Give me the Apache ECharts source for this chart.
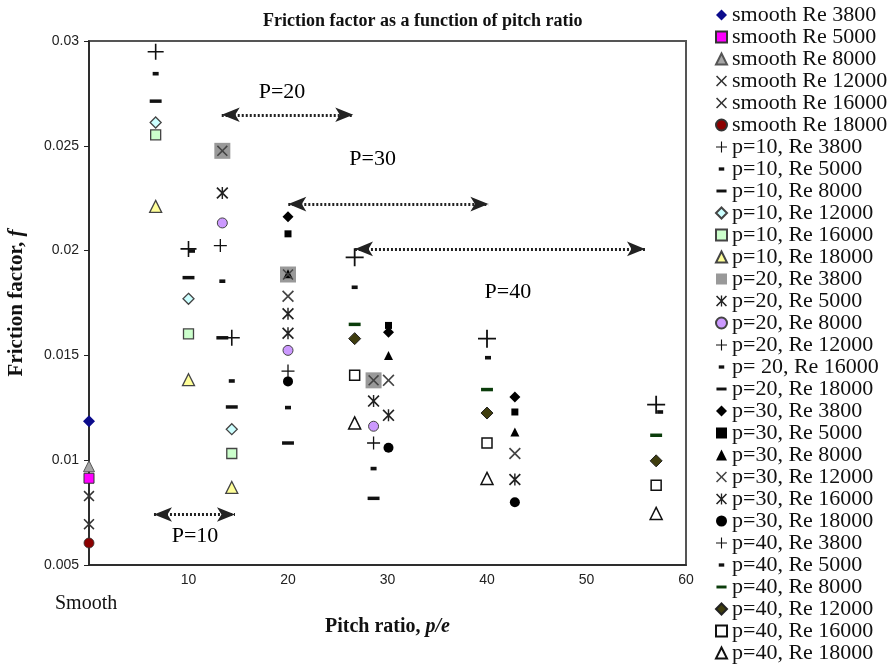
<!DOCTYPE html>
<html><head><meta charset="utf-8">
<script src="https://cdn.jsdelivr.net/npm/echarts@6/dist/echarts.min.js"></script>
<style>html,body{margin:0;padding:0;background:#fff}#c{width:893px;height:669px}</style>
</head><body><div id="c"></div>
<script>
// ---------- data (p/e on x, friction factor f on y) ----------
const legendNames = [
  'smooth Re 3800','smooth Re 5000','smooth Re 8000','smooth Re 12000','smooth Re 16000','smooth Re 18000',
  'p=10, Re 3800','p=10, Re 5000','p=10, Re 8000','p=10, Re 12000','p=10, Re 16000','p=10, Re 18000',
  'p=20, Re 3800','p=20, Re 5000','p=20, Re 8000','p=20, Re 12000','p= 20, Re 16000','p=20, Re 18000',
  'p=30, Re 3800','p=30, Re 5000','p=30, Re 8000','p=30, Re 12000','p=30, Re 16000','p=30, Re 18000',
  'p=40, Re 3800','p=40, Re 5000','p=40, Re 8000','p=40, Re 12000','p=40, Re 16000','p=40, Re 18000'
];
const xTickValues = [0, 10, 20, 30, 40, 50, 60];

const pitchSmooth = [0];
const fSmooth3800 = [0.01186];
const fSmooth5000 = [0.00914];
const fSmooth8000 = [0.00971];
const fSmooth12000 = [0.00829];
const fSmooth16000 = [0.00695];
const fSmooth18000 = [0.00605];

const pitchP10 = [6.7, 10.0, 14.35];
const pitchP10Re5000 = [6.7, 10.35, 14.35];
const fP10Re3800 = [0.02949, 0.02008, 0.01584];
const fP10Re5000 = [0.02844, 0.01998, 0.01378];
const fP10Re8000 = [0.02713, 0.01871, 0.01254];
const fP10Re12000 = [0.02611, 0.01770, 0.01148];
const fP10Re16000 = [0.02552, 0.01603, 0.01032];
const fP10Re18000 = [0.02211, 0.01384, 0.00870];

const pitchP20 = [13.4, 20.0, 28.6];
const pitchP20Re12000 = [13.2, 20.0, 28.6];
const fP20Re3800 = [0.02476, 0.01886, 0.01381];
const fP20Re5000 = [0.02275, 0.01606, 0.01282];
const fP20Re8000 = [0.02132, 0.01524, 0.01162];
const fP20Re12000 = [0.02024, 0.01425, 0.01082];
const fP20Re16000 = [0.01854, 0.01251, 0.00960];
const fP20Re18000 = [0.01584, 0.01082, 0.00818];

const pitchP30 = [20.0, 30.1, 42.8];
const fP30Re3800 = [0.02162, 0.01611, 0.01301];
const fP30Re5000 = [0.02080, 0.01643, 0.01230];
const fP30Re8000 = [0.01890, 0.01500, 0.01135];
const fP30Re12000 = [0.01782, 0.01381, 0.01032];
const fP30Re16000 = [0.01699, 0.01214, 0.00908];
const fP30Re18000 = [0.01376, 0.01059, 0.00799];

const pitchP40 = [26.7, 40.0, 57.0];
const pitchP40Re5000 = [26.7, 40.1, 57.4];
const fP40Re3800 = [0.01968, 0.01580, 0.01265];
const fP40Re5000 = [0.01825, 0.01489, 0.01230];
const fP40Re8000 = [0.01648, 0.01337, 0.01119];
const fP40Re12000 = [0.01580, 0.01225, 0.00997];
const fP40Re16000 = [0.01405, 0.01082, 0.00881];
const fP40Re18000 = [0.01178, 0.00913, 0.00746];

// annotation spans (P = 10 ... 40)
const spanLabels = ['P=10', 'P=20', 'P=30', 'P=40'];
const spanStart = [6.53, 13.34, 20.03, 26.73];
const spanEnd = [14.67, 26.56, 40.14, 55.88];
const spanLevel = [0.00741, 0.02648, 0.02222, 0.02008];
const labelPitch = [10.65, 19.4, 28.5, 42.1];
const labelLevel = [0.00635, 0.02754, 0.02438, 0.01801];

// ---------- symbols ----------
const PLUS = 'path://M4.5,0H5.5V10H4.5ZM0,4.5H10V5.5H0Z';
const CROSS = 'path://M0,1L1,0L5,4L9,0L10,1L6,5L10,9L9,10L5,6L1,10L0,9L4,5Z';
const STAR = 'path://M0,1L1,0L5,4L9,0L10,1L6,5L10,9L9,10L5,6L1,10L0,9L4,5ZM4.4,0H5.6V10H4.4Z';
const SDASH = 'path://M0,0M12,12M3,4.2H9V7.8H3Z';
const WDASH = 'path://M0,0M12,12M0.5,4.4H11.5V7.6H0.5Z';

function pts(xs, ys) { return ys.map((y, i) => [xs[i], y]); }
function sc(name, xs, ys, symbol, size, style, extra) {
  return Object.assign({
    type: 'scatter', name: name, data: pts(xs, ys), symbol: symbol, symbolSize: size,
    itemStyle: Object.assign({ opacity: 1 }, style), emphasis: { disabled: true }, silent: true
  }, extra || {});
}
const lightBorder = { borderColor: '#444', borderWidth: 1.3 };
const serif = 'Liberation Serif';

const series = [
  sc(legendNames[0], pitchSmooth, fSmooth3800, 'diamond', 12, { color: '#0c0c8c' }),
  sc(legendNames[1], pitchSmooth, fSmooth5000, 'rect', 10, { color: '#ff00ff', borderColor: '#333', borderWidth: 1 }),
  sc(legendNames[2], pitchSmooth, fSmooth8000, 'triangle', 11, { color: '#a6a6a6', borderColor: '#555', borderWidth: 1 }),
  sc(legendNames[3], pitchSmooth, fSmooth12000, CROSS, 11, { color: '#333' }),
  sc(legendNames[4], pitchSmooth, fSmooth16000, CROSS, 11, { color: '#333' }),
  sc(legendNames[5], pitchSmooth, fSmooth18000, 'circle', 10, { color: '#8b0000', borderColor: '#333', borderWidth: 0.8 }),

  sc(legendNames[6], pitchP10, fP10Re3800, PLUS, 16, { color: '#111' }),
  sc(legendNames[7], pitchP10Re5000, fP10Re5000, SDASH, 12, { color: '#111' }),
  sc(legendNames[8], pitchP10, fP10Re8000, WDASH, 13, { color: '#111' }),
  sc(legendNames[9], pitchP10, fP10Re12000, 'diamond', 11, Object.assign({ color: '#ccffff' }, lightBorder)),
  sc(legendNames[10], pitchP10, fP10Re16000, 'rect', 10, Object.assign({ color: '#ccffcc' }, lightBorder)),
  sc(legendNames[11], pitchP10, fP10Re18000, 'triangle', 12, Object.assign({ color: '#ffff99' }, lightBorder)),

  sc(legendNames[12], pitchP20, fP20Re3800, 'rect', 16, { color: '#999' }),
  sc(legendNames[12], pitchP20, fP20Re3800, CROSS, 11, { color: '#444' }, { z: 3 }),
  sc(legendNames[13], pitchP20, fP20Re5000, STAR, 12, { color: '#222' }),
  sc(legendNames[14], pitchP20, fP20Re8000, 'circle', 10, { color: '#cc99ff', borderColor: '#444', borderWidth: 1 }),
  sc(legendNames[15], pitchP20Re12000, fP20Re12000, PLUS, 13, { color: '#111' }),
  sc(legendNames[16], pitchP20, fP20Re16000, SDASH, 12, { color: '#111' }),
  sc(legendNames[17], pitchP20, fP20Re18000, WDASH, 13, { color: '#111' }),

  sc(legendNames[18], pitchP30, fP30Re3800, 'diamond', 11, { color: '#000' }),
  sc(legendNames[19], pitchP30, fP30Re5000, 'rect', 7, { color: '#000' }),
  sc(legendNames[20], pitchP30, fP30Re8000, 'triangle', 9, { color: '#000' }),
  sc(legendNames[21], pitchP30, fP30Re12000, CROSS, 12, { color: '#444' }),
  sc(legendNames[22], pitchP30, fP30Re16000, STAR, 12, { color: '#222' }),
  sc(legendNames[23], pitchP30, fP30Re18000, 'circle', 10, { color: '#000' }),

  sc(legendNames[24], pitchP40, fP40Re3800, PLUS, 18, { color: '#111' }),
  sc(legendNames[25], pitchP40Re5000, fP40Re5000, SDASH, 12, { color: '#111' }),
  sc(legendNames[26], pitchP40, fP40Re8000, WDASH, 13, { color: '#0b3d0b' }),
  sc(legendNames[27], pitchP40, fP40Re12000, 'diamond', 12, { color: '#3f3d0e', borderColor: '#222', borderWidth: 1 }),
  sc(legendNames[28], pitchP40, fP40Re16000, 'rect', 10, { color: '#fff', borderColor: '#111', borderWidth: 1.5 }),
  sc(legendNames[29], pitchP40, fP40Re18000, 'triangle', 12, { color: '#fff', borderColor: '#111', borderWidth: 1.5 }),

  {
    type: 'scatter', name: 'annotations', silent: true, z: 5,
    data: spanLabels.map((t, i) => [labelPitch[i], labelLevel[i], t]),
    symbolSize: 1, itemStyle: { color: 'rgba(0,0,0,0)', opacity: 1 },
    emphasis: { disabled: true },
    label: { show: true, position: 'inside', formatter: p => p.value[2], opacity: 1,
      textBorderWidth: 0, fontFamily: serif, fontSize: 22, color: '#000' },
    markLine: {
      silent: true, symbol: ['arrow', 'arrow'], symbolSize: [11, 18],
      label: { show: false },
      lineStyle: { type: [2, 2], width: 3, color: '#222', opacity: 1 },
      itemStyle: { color: '#000' },
      data: spanLabels.map((t, i) => [{ coord: [spanStart[i], spanLevel[i]] }, { coord: [spanEnd[i], spanLevel[i]] }])
    }
  }
];

const chart = echarts.init(document.getElementById('c'), null, { renderer: 'canvas' });
chart.setOption({
  animation: false,
  backgroundColor: '#fff',
  title: {
    text: 'Friction factor as a function of pitch ratio', left: 258, top: 7,
    textStyle: { fontFamily: serif, fontWeight: 'bold', fontSize: 18, color: '#111' }
  },
  grid: { left: 89, right: 207, top: 41, bottom: 104, containLabel: false, outerBoundsMode: 'none',
    show: true, borderColor: '#555', borderWidth: 2, backgroundColor: 'transparent' },
  xAxis: {
    type: 'value', min: xTickValues[0], max: xTickValues[xTickValues.length - 1], interval: 10,
    axisLine: { show: true, onZero: false, lineStyle: { color: '#222', width: 1.5 } },
    axisTick: { show: false }, splitLine: { show: false },
    axisLabel: { formatter: v => (v === 0 ? '' : String(v)), fontFamily: 'Liberation Sans', fontSize: 14, color: '#222', margin: 8 },
    name: '{b|Pitch ratio, }{i|p/e}', nameLocation: 'middle', nameGap: 52,
    nameTextStyle: { rich: {
      b: { fontFamily: serif, fontWeight: 'bold', fontSize: 20, color: '#111' },
      i: { fontFamily: serif, fontWeight: 'bold', fontStyle: 'italic', fontSize: 20, color: '#111' } } }
  },
  yAxis: {
    type: 'value', min: 0.005, max: 0.03, interval: 0.005,
    axisLine: { show: true, onZero: false, lineStyle: { color: '#222', width: 1.5 } },
    axisTick: { show: true, length: 5, lineStyle: { color: '#222' } }, splitLine: { show: false },
    axisLabel: { fontFamily: 'Liberation Sans', fontSize: 14, color: '#222', margin: 10 },
    name: '{b|Friction factor, }{i|f}', nameLocation: 'middle', nameGap: 62,
    nameTextStyle: { rich: {
      b: { fontFamily: serif, fontWeight: 'bold', fontSize: 21, color: '#111' },
      i: { fontFamily: serif, fontWeight: 'bold', fontStyle: 'italic', fontSize: 21, color: '#111' } } }
  },
  legend: {
    orient: 'vertical', left: 715, top: 4, padding: 0, itemWidth: 11, itemHeight: 11, itemGap: 0,
    selectedMode: false, data: legendNames,
    textStyle: { fontFamily: serif, fontSize: 22, color: '#111', lineHeight: 22 }
  },
  graphic: [{
    type: 'text', left: 55, top: 594,
    style: { text: 'Smooth', font: '20px "Liberation Serif"', fill: '#111' }
  }],
  series: series
});
</script></body></html>
